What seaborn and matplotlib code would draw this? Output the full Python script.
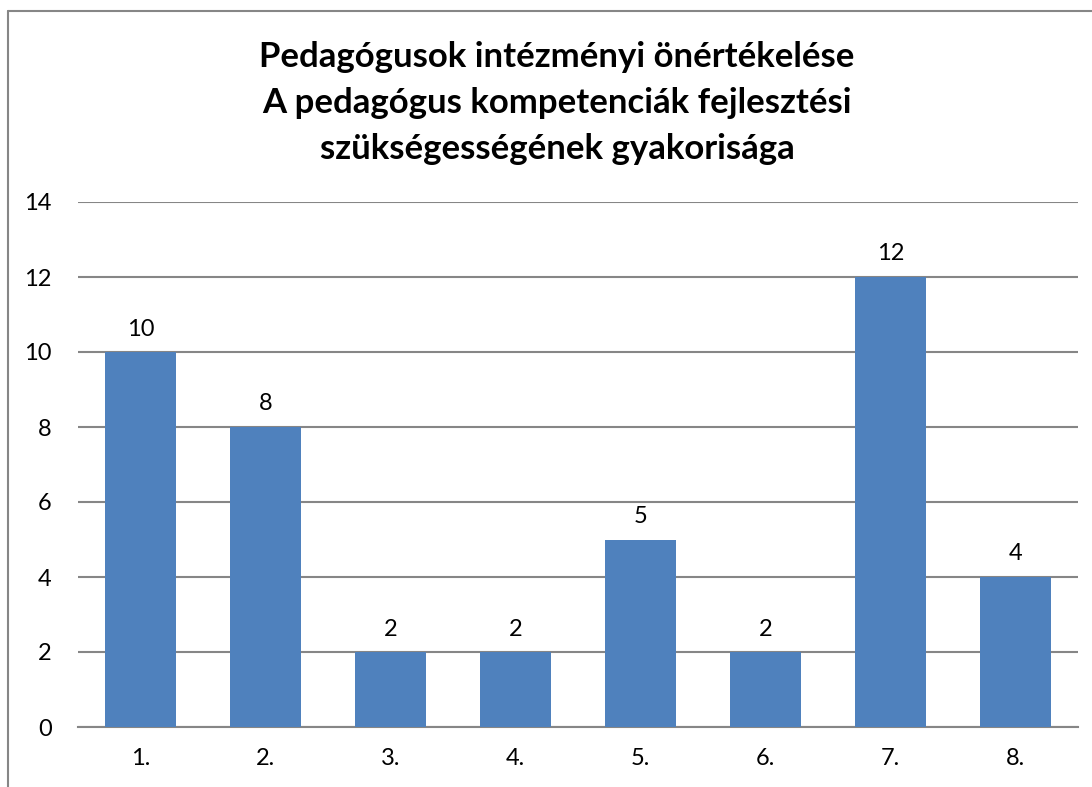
import matplotlib
matplotlib.use("Agg")
import matplotlib.pyplot as plt
import seaborn as sns
import pandas as pd
from matplotlib.lines import Line2D

# Data
categories = ["1.", "2.", "3.", "4.", "5.", "6.", "7.", "8."]
counts = [10, 8, 2, 2, 5, 2, 12, 4]
title_lines = [
    "Pedagógusok intézményi önértékelése",
    "A pedagógus kompetenciák fejlesztési",
    "szükségességének gyakorisága",
]

sns.set_theme(style="white")
plt.rcParams["font.family"] = ["Lato", "DejaVu Sans"]

df = pd.DataFrame({"kat": categories, "db": counts})

fig = plt.figure(figsize=(10.92, 7.87), dpi=100)
ax = fig.add_axes([78 / 1092, 1 - 727 / 787, 1000 / 1092, 525 / 787])

sns.barplot(data=df, x="kat", y="db", color="#4F81BD", saturation=1,
            width=0.57, linewidth=0, ax=ax, zorder=3)

ax.set_ylim(0, 14)
ax.set_yticks(range(0, 15, 2))
ax.set_xlim(-0.5, len(categories) - 0.5)
ax.yaxis.grid(True, color="#868686", linewidth=1.5, zorder=0)
ax.set_axisbelow(True)
for s in ["top", "right", "left"]:
    ax.spines[s].set_visible(False)
ax.spines["bottom"].set_color("#868686")
ax.spines["bottom"].set_linewidth(1.5)
ax.set_xlabel("")
ax.set_ylabel("")
ax.tick_params(axis="both", length=0, labelsize=17, colors="black")
ax.tick_params(axis="y", pad=19)
ax.tick_params(axis="x", pad=15)

# value labels above the bars
for i, v in enumerate(counts):
    ax.annotate(str(v), (i, v), xytext=(0, 9), textcoords="offset points",
                ha="center", va="bottom", fontsize=17, color="black")

# title
for k, line in enumerate(title_lines):
    fig.text(557 / 1092, 1 - (57 + 46 * k) / 787, line, ha="center",
             va="center", fontsize=25, fontweight="bold", color="black")

# chart border (cut off at the right and bottom like the original)
border = dict(color="#868686", linewidth=1.5, transform=fig.transFigure)
fig.add_artist(Line2D([8 / 1092, 1.0], [1 - 11 / 787] * 2, **border))
fig.add_artist(Line2D([8 / 1092] * 2, [0.0, 1 - 11 / 787], **border))

fig.savefig("out.png", dpi=100)
